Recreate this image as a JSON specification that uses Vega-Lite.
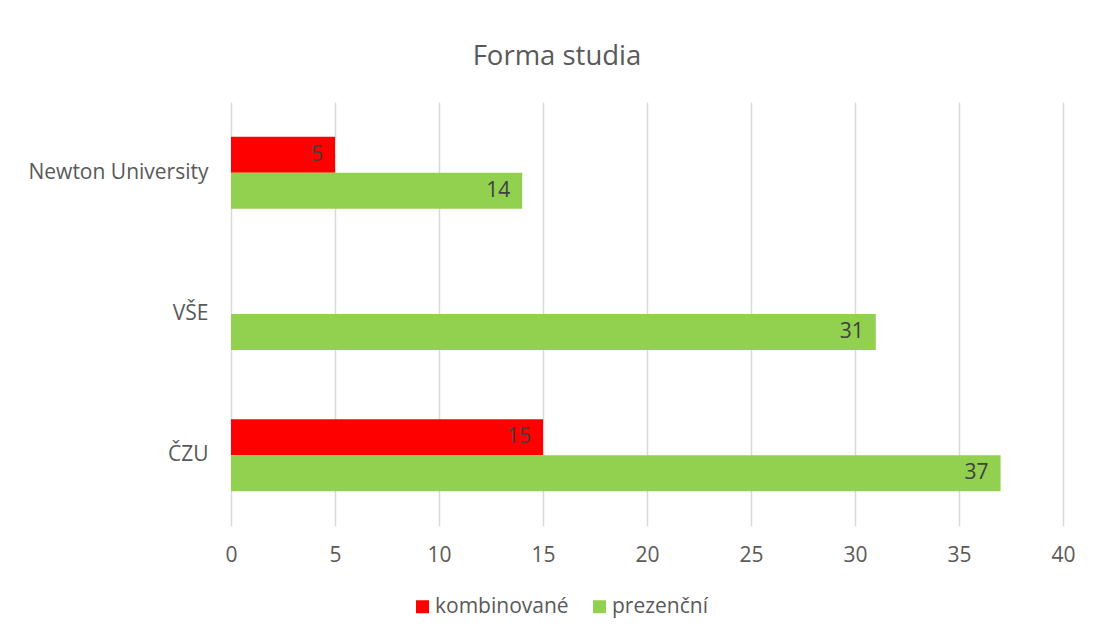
{
  "$schema": "https://vega.github.io/schema/vega-lite/v6.json",
  "autosize": {"type": "none"},
  "width": 832,
  "height": 424,
  "padding": {"left": 231, "top": 102, "right": 31, "bottom": 117},
  "background": "white",
  "title": {
    "text": "Forma studia",
    "fontSize": 27.5,
    "font": "Open Sans",
    "fontWeight": "normal",
    "color": "#595959",
    "anchor": "middle",
    "dx": -90,
    "offset": 32
  },
  "data": {
    "values": [
      {"skola": "Newton University", "forma": "kombinované", "pocet": 5},
      {"skola": "Newton University", "forma": "prezenční", "pocet": 14},
      {"skola": "VŠE", "forma": "prezenční", "pocet": 31},
      {"skola": "ČZU", "forma": "kombinované", "pocet": 15},
      {"skola": "ČZU", "forma": "prezenční", "pocet": 37}
    ]
  },
  "encoding": {
    "y": {
      "field": "skola",
      "type": "nominal",
      "sort": ["Newton University", "VŠE", "ČZU"],
      "scale": {"paddingInner": 0.49, "paddingOuter": 0.245},
      "axis": {
        "title": null,
        "domain": false,
        "ticks": false,
        "labelPadding": 23,
        "labelFontSize": 21,
        "labelFont": "Open Sans",
        "labelColor": "#595959"
      }
    },
    "yOffset": {
      "field": "forma",
      "type": "nominal",
      "scale": {"domain": ["kombinované", "prezenční"], "paddingInner": 0, "paddingOuter": 0}
    },
    "x": {
      "field": "pocet",
      "type": "quantitative",
      "scale": {"domain": [0, 40]},
      "axis": {
        "title": null,
        "values": [0, 5, 10, 15, 20, 25, 30, 35, 40],
        "domain": false,
        "ticks": false,
        "labelFlush": false,
        "labelPadding": 18,
        "labelFontSize": 21,
        "labelFont": "Open Sans",
        "labelColor": "#595959",
        "gridColor": "#d9d9d9",
        "gridWidth": 1.5
      }
    }
  },
  "layer": [
    {
      "mark": {"type": "bar"},
      "encoding": {
        "color": {
          "field": "forma",
          "type": "nominal",
          "scale": {"domain": ["kombinované", "prezenční"], "range": ["#FF0000", "#92D050"]},
          "legend": {
            "title": null,
            "orient": "none",
            "direction": "horizontal",
            "legendX": 181,
            "legendY": 494,
            "symbolType": "square",
            "symbolSize": 169,
            "symbolStrokeWidth": 0,
            "labelFontSize": 21,
            "labelFont": "Open Sans",
            "labelColor": "#595959",
            "columnPadding": 20,
            "labelOffset": 2
          }
        }
      }
    },
    {
      "mark": {"type": "text", "align": "right", "baseline": "middle", "dx": -12, "fontSize": 21, "font": "Open Sans", "color": "#404040"},
      "encoding": {
        "text": {"field": "pocet", "type": "quantitative"}
      }
    }
  ],
  "config": {
    "view": {"stroke": null}
  }
}
